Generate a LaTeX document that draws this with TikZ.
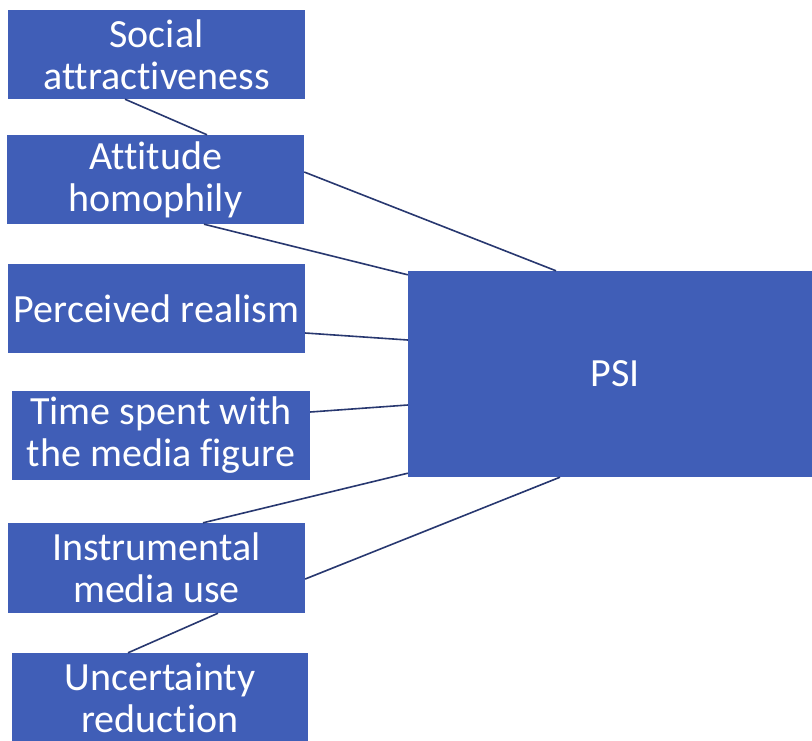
\documentclass[tikz,border=0pt]{standalone}
\usepackage{fontspec}
\setmainfont{Carlito}[Ligatures = NoCommon]
\usetikzlibrary{positioning}

\definecolor{boxblue}{RGB}{64,94,183}
\definecolor{linknavy}{RGB}{40,56,112}

\begin{document}
\begin{tikzpicture}[x = 1pt, y = -1pt,
	 factor/.style = {draw = none, fill = boxblue, text = white, align = center, inner sep = 0pt,
		 minimum width = 297pt, minimum height = 89pt, font = \fontsize{40}{42}\selectfont},
	 link/.style = {draw = linknavy, line width = 1.6pt}]
	 \clip (0, 0) rectangle (812, 740);
	 \fill[white] (0, 0) rectangle (812, 740);

	 % predictors on the left
	 \node[factor] (social) at (156.5, 54.5) {Social\\attractiveness};
	 \node[factor] (attitude) at (155.5, 179.5) {Attitude\\homophily};
	 \node[factor] (realism) at (156.5, 308.5) {Perceived realism};
	 \node[factor, minimum width = 298pt] (timespent) at (161, 435.5) {Time spent with\\the media figure};
	 \node[factor, minimum height = 90pt] (instrumental) at (156.5, 568) {Instrumental\\media use};
	 \node[factor, minimum width = 296pt] (uncertainty) at (160, 697.5) {Uncertainty\\reduction};

	 % outcome
	 \node[factor, minimum width = 414pt, minimum height = 206pt] (psi) at (615, 374) {PSI};

	 % links
	 \draw[link] ([xshift = -31.5pt] social.south) -- ([xshift = 51.5pt] attitude.north);
	 \draw[link] ([yshift = 7.5pt] attitude.east) -- ([xshift = -59pt] psi.north);
	 \draw[link] ([xshift = 48.5pt] attitude.south) -- ([yshift = -4pt] psi.north west);
	 \draw[link] ([yshift = -24.5pt] realism.east) -- ([yshift = 34pt] psi.west);
	 \draw[link] ([yshift = 23.5pt] timespent.east) -- ([yshift = -31pt] psi.west);
	 \draw[link] ([xshift = 46.5pt] instrumental.north) -- ([yshift = 4pt] psi.south west);
	 \draw[link] ([yshift = -11pt] instrumental.east) -- ([xshift = -55pt] psi.south);
	 \draw[link] ([xshift = 61.5pt] instrumental.south) -- ([xshift = -32pt] uncertainty.north);
\end{tikzpicture}
\end{document}
